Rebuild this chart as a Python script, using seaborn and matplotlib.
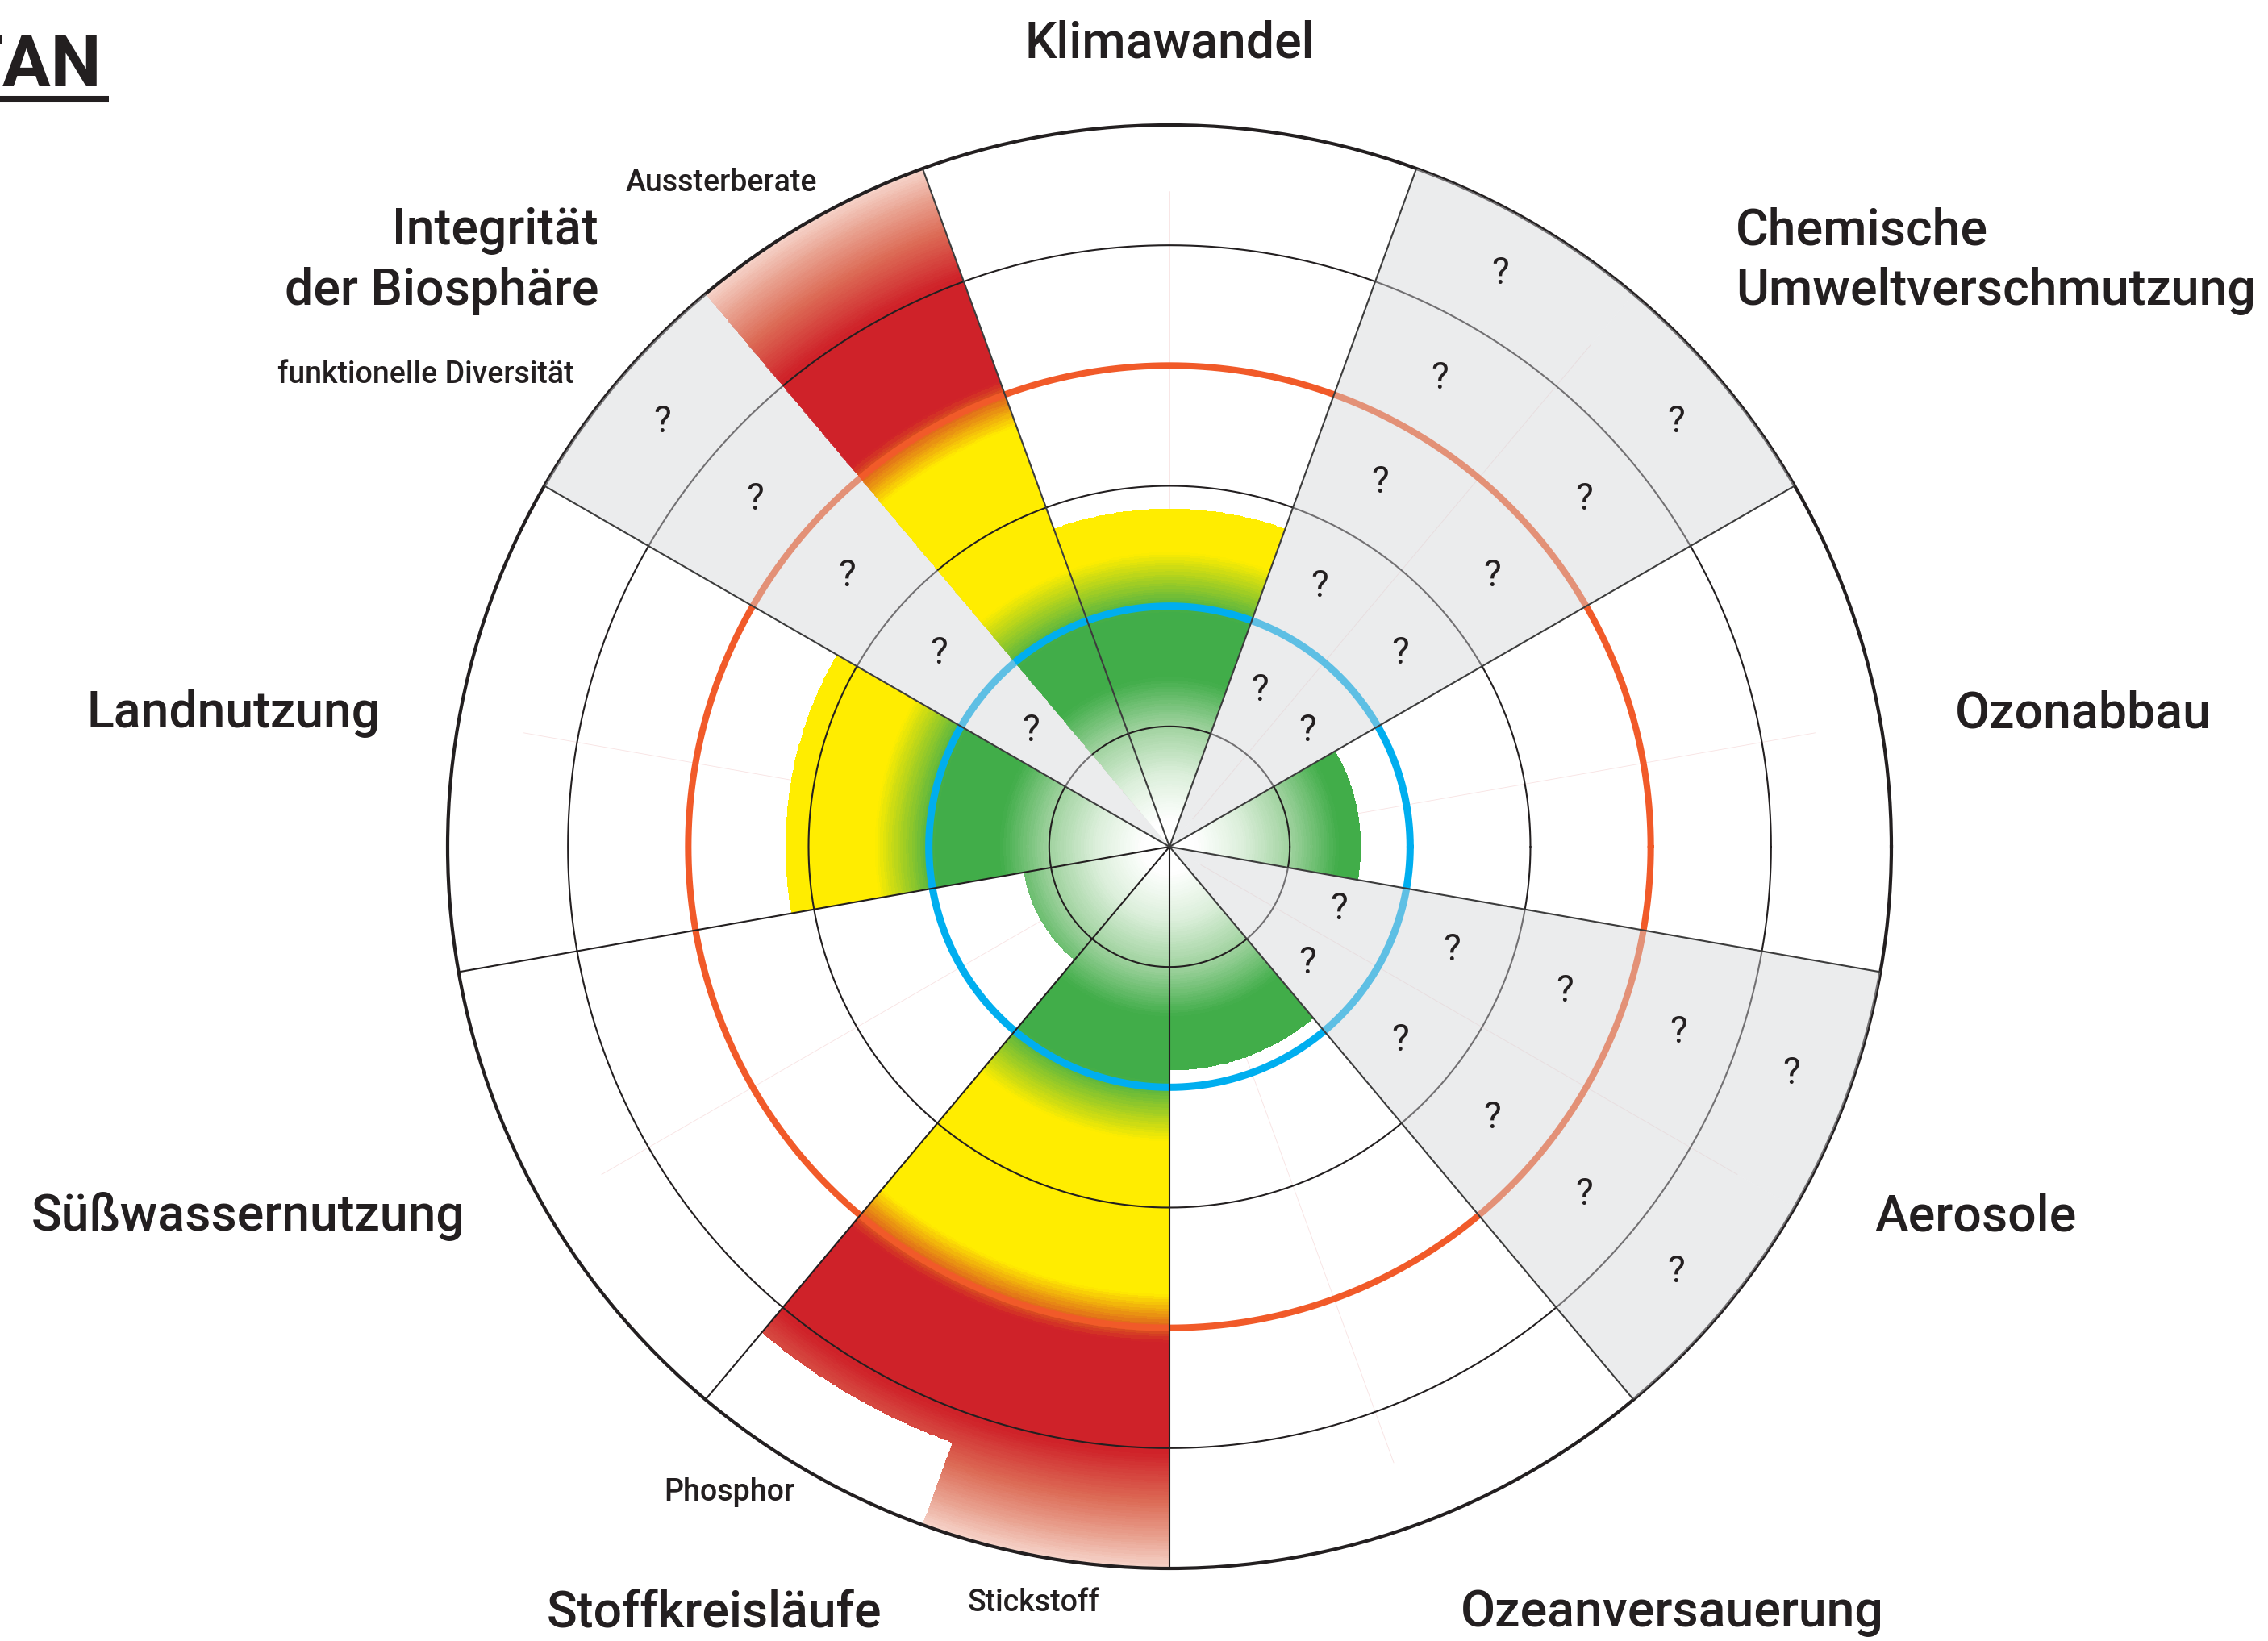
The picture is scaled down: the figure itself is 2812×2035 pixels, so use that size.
import numpy as np
import pandas as pd
import seaborn as sns
import matplotlib
matplotlib.use("Agg")
import matplotlib.pyplot as plt
from matplotlib.colors import LinearSegmentedColormap, Normalize
from matplotlib.lines import Line2D

sns.set_theme(style="white")
plt.rcParams["font.family"] = ["Roboto", "DejaVu Sans"]

# ---------------- data ----------------
boundaries = ["Klimawandel", "Chemische\nUmweltverschmutzung", "Ozonabbau", "Aerosole",
              "Ozeanversauerung", "Stoffkreisläufe", "Süßwassernutzung", "Landnutzung",
              "Integrität\nder Biosphäre"]
sub_parent = [0, 1, 1, 2, 3, 3, 4, 5, 5, 6, 7, 8, 8]
sub_names = ["", "", "", "", "", "", "", "Stickstoff", "Phosphor", "", "",
             "funktionelle Diversität", "Aussterberate"]
sub_values = [2.81, np.nan, np.nan, 1.59, np.nan, np.nan, 1.86, 6.3, 5.27, 1.23, 3.19,
              np.nan, 6.3]
zone_levels = [1, 2, 3, 4, 5]
safe_boundary = 2.0
uncertainty_upper = 4.0
scale_max = 6.0
question_levels = [1.5, 2.5, 3.5, 4.5, 5.5]

# colour as a function of distance from the centre
gradient_stops = [(0.00, "#ffffff"), (0.20, "#ffffff"), (0.60, "#dcefdb"), (1.00, "#9fd29e"),
                  (1.40, "#41ad49"), (1.95, "#41ad49"), (2.45, "#ffed00"), (3.72, "#ffed00"),
                  (4.12, "#cf2229"), (5.05, "#cf2229"), (5.45, "#dc6a55"), (5.75, "#e8a08e"),
                  (6.10, "#fbe6df")]

INK = "#231f20"
W, H = 2812, 2035

# ---------------- derived geometry ----------------
df = pd.DataFrame({"parent": sub_parent, "name": sub_names, "value": sub_values})
n = len(boundaries)
sector_w = 360.0 / n
top_edge = 90 + sector_w / 2
df["k"] = df.groupby("parent")["parent"].transform("size")
df["j"] = df.groupby("parent").cumcount()
df["hi"] = top_edge - sector_w * df["parent"] - sector_w / df["k"] * df["j"]
df["lo"] = df["hi"] - sector_w / df["k"]
df["mid"] = (df["hi"] + df["lo"]) / 2

gmax = gradient_stops[-1][0]
cmap = LinearSegmentedColormap.from_list("pb", [(p / gmax, c) for p, c in gradient_stops])
norm = Normalize(0, gmax)

fig = plt.figure(figsize=(W / 100, H / 100), dpi=100)
cx, cy, R = 1450, 1050, 895
ax = fig.add_axes([(cx - R) / W, (H - cy - R) / H, 2 * R / W, 2 * R / H], projection="polar")
ax.set_ylim(0, scale_max)
ax.set_xticks([])
ax.set_yticks([])
ax.grid(False)
ax.set_facecolor("white")
ax.spines["polar"].set_linewidth(3.0)
ax.spines["polar"].set_color(INK)

full = np.linspace(0, 2 * np.pi, 1441)

# faint guide lines at sector centres
for i in range(n):
    a = np.radians(top_edge - sector_w * i - sector_w / 2)
    ax.plot([a, a], [0.3, 5.45], color="#f3cfcf", lw=0.6, alpha=0.6, zorder=0.5)

# gradient bars
for _, row in df.dropna(subset=["value"]).iterrows():
    th = np.radians(np.linspace(row["lo"], row["hi"], 81))
    r = np.linspace(0, row["value"], int(row["value"] / 0.01) + 1)
    C = np.tile((0.5 * (r[1:] + r[:-1]))[:, None], (1, len(th) - 1))
    ax.pcolormesh(th, r, C, cmap=cmap, norm=norm, shading="flat", zorder=1)

# rings
for lv in zone_levels:
    ax.plot(full, np.full_like(full, lv), color=INK, lw=1.5, zorder=2)
ax.plot(full, np.full_like(full, safe_boundary), color="#00aeef", lw=6.5, zorder=2.5)
ax.plot(full, np.full_like(full, uncertainty_upper), color="#f15a29", lw=5.8, zorder=2.5)

# unknown (grey) sectors
unknown = df[df["value"].isna()]
for _, row in unknown.iterrows():
    ax.bar(np.radians(row["mid"]), scale_max, width=np.radians(row["hi"] - row["lo"]),
           bottom=0, color="#d3d5d8", alpha=0.45, linewidth=0, zorder=3)
    for lv in question_levels:
        ax.text(np.radians(row["mid"]), lv, "?", ha="center", va="center",
                fontsize=33, color=INK, zorder=5)

# radial sector lines
grey_parents = set(unknown["parent"])
for i in range(n):
    a = top_edge - sector_w * i
    left_p = i - 1 if i > 0 else n - 1
    adj = (i in grey_parents) or (left_p in grey_parents)
    ax.plot([np.radians(a)] * 2, [0, scale_max], color="#3c3c3c" if adj else INK,
            lw=1.5, zorder=4)


def ftext(x, y, s, **kw):
    fig.text(x / W, 1 - y / H, s, va="baseline", color=INK, **kw)


# main labels
label_pos = [("center", 1450, 72), ("left", 2152, 303), ("left", 2424, 902),
             ("left", 2324, 1526), ("left", 1811, 2017), ("left", 678, 2017),
             ("left", 39, 1526), ("left", 108, 902), ("right", 742, 303)]
for name, (ha, x, y) in zip(boundaries, label_pos):
    for li, line in enumerate(name.split("\n")):
        ftext(x, y + 75 * li, line, ha=ha, fontsize=45, fontweight="medium")

# sub labels
sub_pos = {"Stickstoff": ("left", 1200, 1998), "Phosphor": ("left", 823, 1861),
           "funktionelle Diversität": ("right", 712, 475),
           "Aussterberate": ("left", 776, 237)}
for nm in df["name"]:
    if nm:
        ha, x, y = sub_pos[nm]
        ftext(x, y, nm, ha=ha, fontsize=27, fontweight="medium")

# cut-off heading at top-left
ftext(126, 107, "TAN", ha="right", fontsize=64, fontweight="bold")
fig.add_artist(Line2D([0, 135 / W], [1 - 123 / H] * 2, color=INK, lw=5.8,
                      transform=fig.transFigure, solid_capstyle="butt"))

fig.savefig("out.png", dpi=100, facecolor="white")
